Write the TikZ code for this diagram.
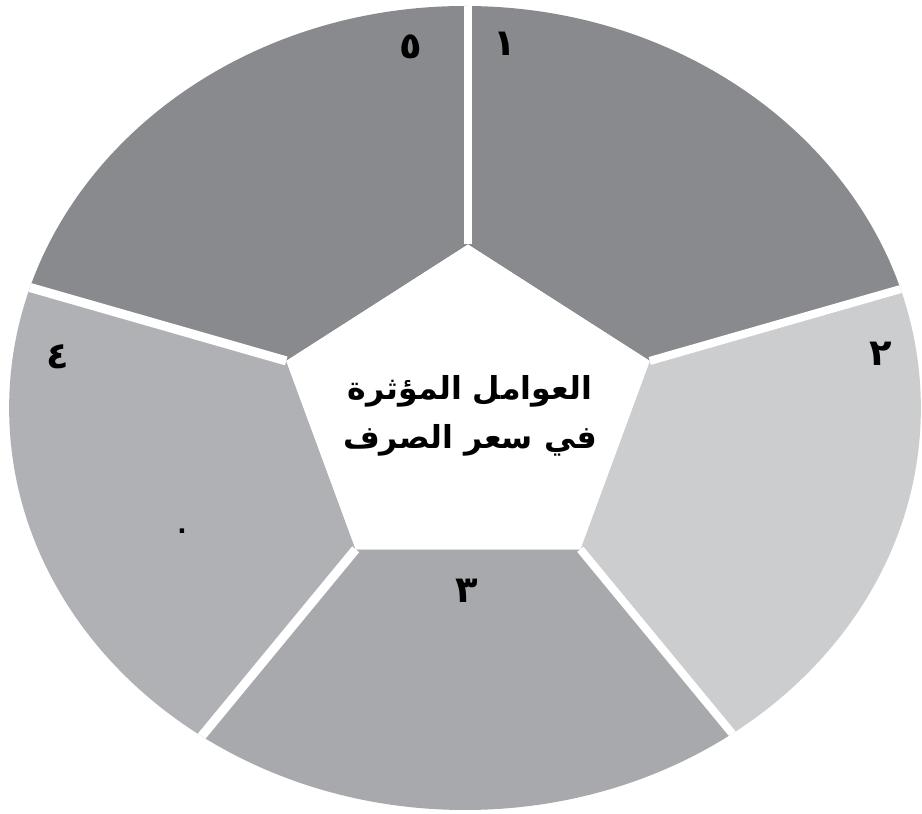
\documentclass[tikz,border=0pt]{standalone}
\usepackage{fontspec}
\newfontfamily\arabicfont[Script=Arabic]{DejaVu Sans}
\TeXXeTstate=1
\definecolor{segdark}{RGB}{137,138,142}
\definecolor{segpale}{RGB}{204,205,207}
\definecolor{segmid}{RGB}{168,169,172}
\definecolor{segsoft}{RGB}{176,177,180}
\tikzset{
  seam/.style={white,line width=4.6pt},
  digit/.style={font=\arabicfont\bfseries\fontsize{21}{21}\selectfont},
}
\begin{document}
\begin{tikzpicture}[line join=round]
  \useasboundingbox (0,0) rectangle (18.44,16.28);
  \begin{scope}[shift={(9.36,8.02)},xscale=1.134]
    \coordinate (p1) at (90:3.37);
    \coordinate (p2) at (18:3.37);
    \coordinate (p3) at (-54:3.37);
    \coordinate (p4) at (-126:3.37);
    \coordinate (p5) at (162:3.37);
    \coordinate (o1) at (90:11);
    \coordinate (o2) at (18:11);
    \coordinate (o3) at (-54:11);
    \coordinate (o4) at (-126:11);
    \coordinate (o5) at (162:11);
    \begin{scope}
      \clip (-0.053,0.10) circle (8.04);
      \fill[segdark] (p1) -- (o1) -- (o2) -- (p2) -- cycle;
      \fill[segpale] (p2) -- (o2) -- (o3) -- (p3) -- cycle;
      \fill[segmid] (p3) -- (o3) -- (o4) -- (p4) -- cycle;
      \fill[segsoft] (p4) -- (o4) -- (o5) -- (p5) -- cycle;
      \fill[segdark] (p5) -- (o5) -- (o1) -- (p1) -- cycle;
      \draw[seam] (p1) -- (o1);
      \draw[seam] (p2) -- (o2);
      \draw[seam] (p3) -- (o3);
      \draw[seam,line width=5.2pt] (p4) -- (o4);
      \draw[seam,line width=5.2pt] (p5) -- (o5);
    \end{scope}
    \fill[white] (p1) -- (p2) -- (p3) -- (p4) -- (p5) -- cycle;
  \end{scope}
  \node[align=center,font=\arabicfont\bfseries\fontsize{18}{28}\selectfont] (title) at (9.40,7.96)
    {\beginR العوامل المؤثرة\endR\\\beginR في سعر الصرف\endR};
  \node[digit] (n1) at (10.10,15.40) {١};
  \node[digit] (n2) at (17.62,9.20) {٢};
  \node[digit] (n3) at (9.34,4.46) {٣};
  \node[digit] (n4) at (1.16,9.14) {٤};
  \node[digit] (n5) at (8.22,15.34) {٥};
  \node[font=\arabicfont\bfseries\fontsize{14}{14}\selectfont] (mark4) at (3.64,5.66) {.};
\end{tikzpicture}
\end{document}
